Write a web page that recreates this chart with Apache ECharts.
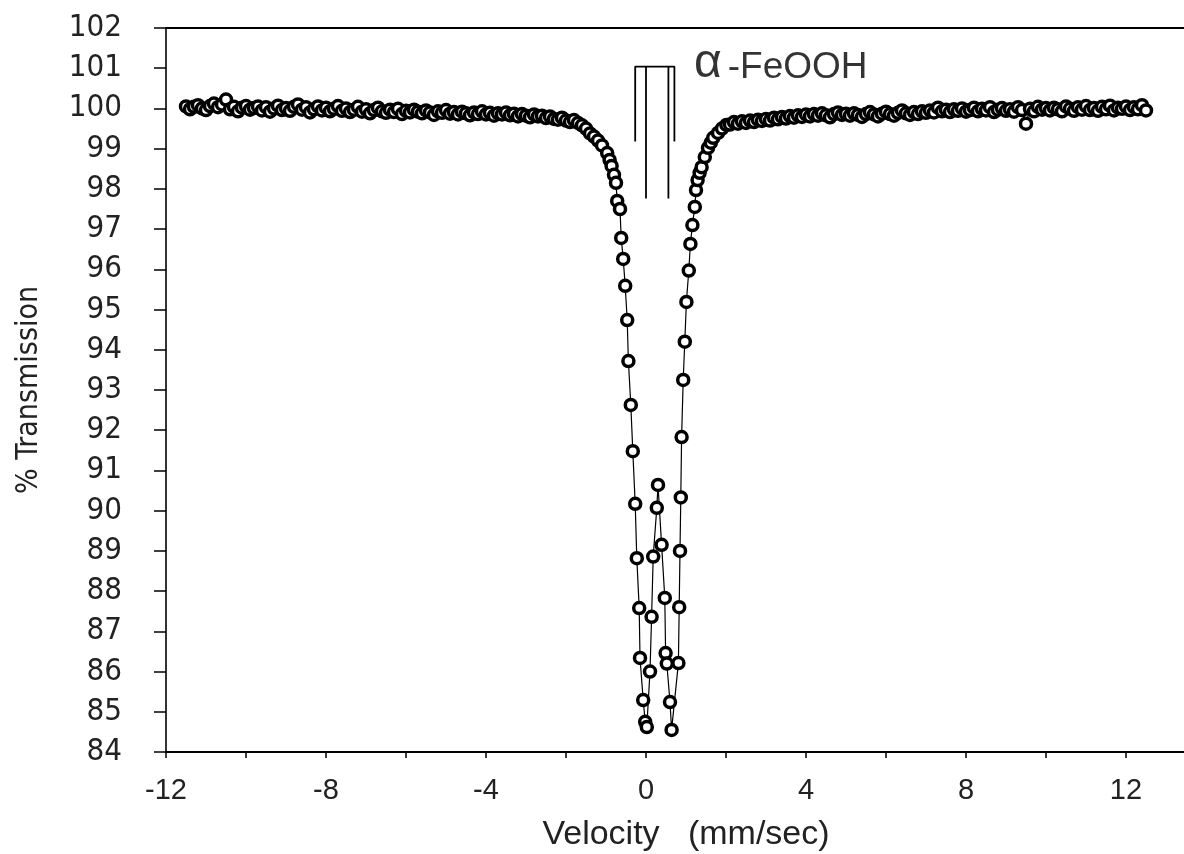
<!DOCTYPE html>
<html>
<head>
<meta charset="utf-8">
<script src="https://cdn.jsdelivr.net/npm/echarts@6/dist/echarts.min.js"></script>
<style>
html,body{margin:0;padding:0;background:#fff;}
#chart{width:1184px;height:854px;}
</style>
</head>
<body>
<div id="chart"></div>
<script>
// ---- data (velocity in mm/sec, % transmission) ----
const leftWingV = [-11.5,-11.4,-11.3,-11.2,-11.1,-11.0,-10.9,-10.8,-10.7,-10.6,-10.5,-10.4,-10.3,-10.2,-10.1,-10.0,
 -9.9,-9.8,-9.7,-9.6,-9.5,-9.4,-9.3,-9.2,-9.1,-9.0,-8.9,-8.8,-8.7,-8.6,-8.5,-8.4,-8.3,-8.2,-8.1,-8.0,
 -7.9,-7.8,-7.7,-7.6,-7.5,-7.4,-7.3,-7.2,-7.1,-7.0,-6.9,-6.8,-6.7,-6.6,-6.5,-6.4,-6.3,-6.2,-6.1,-6.0,
 -5.9,-5.8,-5.7,-5.6,-5.5,-5.4,-5.3,-5.2,-5.1,-5.0,-4.9,-4.8,-4.7,-4.6,-4.5,-4.4,-4.3,-4.2,-4.1,-4.0,
 -3.9,-3.8,-3.7,-3.6,-3.5,-3.4,-3.3,-3.2,-3.1,-3.0,-2.9,-2.8,-2.7,-2.6,-2.5,-2.4,-2.3,-2.2,-2.1,-2.0,
 -1.9,-1.8,-1.7,-1.6,-1.5,-1.4,-1.3,-1.2,-1.1];
const leftWingT = [100.05,99.98,100.04,100.08,100.00,99.96,100.06,100.12,100.03,100.10,100.22,99.98,100.04,99.93,100.02,100.06,
 99.97,100.01,100.05,99.95,100.03,99.92,100.00,100.07,99.96,100.01,99.94,100.04,100.10,99.97,100.03,99.90,99.98,100.05,99.95,100.02,
 99.93,99.99,100.06,99.94,100.00,99.91,99.97,100.04,99.92,99.98,99.88,99.96,100.02,99.93,99.89,99.97,99.91,99.99,99.86,99.94,
 99.90,99.97,99.92,99.88,99.95,99.90,99.84,99.93,99.89,99.96,99.87,99.91,99.85,99.92,99.88,99.83,99.90,99.86,99.93,99.85,
 99.89,99.82,99.88,99.85,99.90,99.83,99.87,99.80,99.86,99.82,99.78,99.85,99.80,99.82,99.76,99.80,99.74,99.72,99.77,99.70,
 99.66,99.71,99.64,99.58,99.50,99.38,99.30,99.20,99.08];

const centerV = [-0.97,-0.91,-0.86,-0.80,-0.75,-0.72,-0.65,-0.62,-0.57,-0.52,-0.47,-0.44,-0.38,-0.33,-0.27,-0.23,-0.17,-0.15,-0.07,-0.02,0.02,
 0.10,0.14,0.18,0.27,0.30,0.39,0.47,0.49,0.52,0.60,0.64,
 0.81,0.83,0.85,0.87,0.89,0.93,0.97,1.01,1.07,1.11,1.16,1.22,1.25,1.29,1.34,1.39,1.47,1.55,1.62,1.68,1.80,1.90,2.01];
const centerT = [98.89,98.72,98.57,98.35,98.15,97.70,97.50,96.78,96.26,95.59,94.74,93.72,92.63,91.48,90.17,88.82,87.58,86.34,85.29,84.75,84.62,
 86.00,87.36,88.86,90.07,90.64,89.15,87.83,86.46,86.20,85.24,84.55,
 86.21,87.60,89.00,90.33,91.83,93.25,94.20,95.19,95.97,96.63,97.10,97.55,97.97,98.22,98.40,98.54,98.79,99.02,99.15,99.27,99.39,99.50,99.59];

const rightWingV = [2.1,2.2,2.3,2.4,2.5,2.6,2.7,2.8,2.9,3.0,3.1,3.2,3.3,3.4,3.5,3.6,3.7,3.8,3.9,4.0,
 4.1,4.2,4.3,4.4,4.5,4.6,4.7,4.8,4.9,5.0,5.1,5.2,5.3,5.4,5.5,5.6,5.7,5.8,5.9,6.0,
 6.1,6.2,6.3,6.4,6.5,6.6,6.7,6.8,6.9,7.0,7.1,7.2,7.3,7.4,7.5,7.6,7.7,7.8,7.9,8.0,
 8.1,8.2,8.3,8.4,8.5,8.6,8.7,8.8,8.9,9.0,9.1,9.2,9.3,9.4,9.5,9.6,9.7,9.8,9.9,10.0,
 10.1,10.2,10.3,10.4,10.5,10.6,10.7,10.8,10.9,11.0,11.1,11.2,11.3,11.4,11.5,11.6,11.7,11.8,11.9,12.0,
 12.1,12.2,12.3,12.4,12.5];
const rightWingT = [99.60,99.66,99.62,99.68,99.64,99.70,99.66,99.72,99.69,99.74,99.70,99.77,99.73,99.79,99.75,99.81,99.77,99.83,99.79,99.85,
 99.80,99.86,99.82,99.88,99.83,99.78,99.86,99.90,99.84,99.87,99.82,99.88,99.84,99.79,99.86,99.91,99.85,99.80,99.87,99.92,
 99.86,99.82,99.89,99.95,99.88,99.84,99.91,99.86,99.93,99.89,99.95,99.90,100.02,99.93,99.97,99.91,99.98,99.94,100.00,99.92,
 99.96,100.02,99.93,99.99,99.95,100.03,99.91,99.97,100.01,99.94,99.98,99.92,100.03,99.96,99.62,99.99,99.93,100.04,99.97,100.01,
 99.95,100.02,99.98,99.93,100.05,99.99,99.94,100.03,99.97,100.06,99.96,100.01,99.94,100.04,99.98,100.07,99.95,100.02,99.99,100.05,
 99.96,100.03,99.98,100.08,99.95];

// stick diagram for alpha-FeOOH doublet
const stickOuterV = [-0.27, -0.27, 0.71, 0.71];
const stickOuterT = [99.18, 101.04, 101.04, 99.18];
const stickInnerV = [0.0, 0.56];
const stickInnerTop = 101.04;
const stickInnerBottom = 97.76;
const labelPos = [1.2, 101.0];

const yTicks = [84,85,86,87,88,89,90,91,92,93,94,95,96,97,98,99,100,101,102];
const xLabelValues = [-12,-8,-4,0,4,8,12];

// ---- build ----
const V = leftWingV.concat(centerV, rightWingV);
const T = leftWingT.concat(centerT, rightWingT);
const spectrum = V.map((v, i) => [v, T[i]]);

const chart = echarts.init(document.getElementById('chart'));
const FONT = '"Liberation Sans", Arial, sans-serif';
const NARROW = '"Liberation Sans Narrow", "DejaVu Sans Condensed", "Liberation Sans", sans-serif';

const series = [
  {
    type: 'line', data: spectrum, symbol: 'circle', symbolSize: 11,
    itemStyle: { color: '#fff', borderColor: '#000', borderWidth: 3.5 },
    lineStyle: { color: '#000', width: 1.2 },
    z: 3, animation: false
  },
  {
    type: 'line', data: stickOuterV.map((v, i) => [v, stickOuterT[i]]),
    symbol: 'none', lineStyle: { color: '#000', width: 1.8 }, z: 2, animation: false
  }
];
stickInnerV.forEach(v => {
  series.push({
    type: 'line', data: [[v, stickInnerTop], [v, stickInnerBottom]],
    symbol: 'none', lineStyle: { color: '#000', width: 1.8 }, z: 2, animation: false
  });
});
series.push({
  type: 'scatter', data: [labelPos], symbolSize: 0, z: 4, animation: false,
  label: {
    show: true, position: 'right', distance: 0,
    formatter: '{a|α}{b|-FeOOH}',
    rich: {
      a: { fontSize: 48, fontFamily: FONT, color: '#000', padding: [0, 6, 8, 0] },
      b: { fontSize: 37, fontFamily: FONT, color: '#000' }
    }
  }
});

chart.setOption({
  animation: false,
  backgroundColor: '#fff',
  grid: { left: 166, width: 1040, top: 28, height: 724, outerBoundsMode: 'none', containLabel: false },
  xAxis: [
    {
      type: 'value', min: -12, max: 14, interval: 2, position: 'bottom',
      name: 'Velocity   (mm/sec)', nameLocation: 'middle', nameGap: 66,
      nameTextStyle: { fontSize: 34, fontFamily: FONT, color: '#222' },
      axisLine: { show: true, onZero: false, lineStyle: { color: '#000', width: 2 } },
      axisTick: { show: true, length: 6, inside: false, lineStyle: { color: '#000', width: 1.5 } },
      axisLabel: {
        fontSize: 29, fontFamily: FONT, color: '#222', margin: 24,
        showMaxLabel: false,
        formatter: v => (xLabelValues.indexOf(v) >= 0 ? String(v) : '')
      },
      splitLine: { show: false }
    },
    {
      type: 'value', min: -12, max: 14, position: 'top',
      axisLine: { show: true, onZero: false, lineStyle: { color: '#000', width: 2 } },
      axisTick: { show: false }, axisLabel: { show: false }, splitLine: { show: false }
    }
  ],
  yAxis: {
    type: 'value', min: 84, max: 102, interval: 1,
    name: '% Transmission', nameLocation: 'middle', nameGap: 122,
    nameTextStyle: { fontSize: 30, fontFamily: NARROW, color: '#222' },
    axisLine: { show: true, onZero: false, lineStyle: { color: '#000', width: 1.6 } },
    axisTick: { show: true, length: 12, inside: false, lineStyle: { color: '#000', width: 1.5 } },
    axisLabel: {
      fontSize: 31, fontFamily: NARROW, color: '#222', margin: 44,
      formatter: v => (yTicks.indexOf(v) >= 0 ? String(v) : '')
    },
    splitLine: { show: false }
  },
  series: series
});
</script>
</body>
</html>
